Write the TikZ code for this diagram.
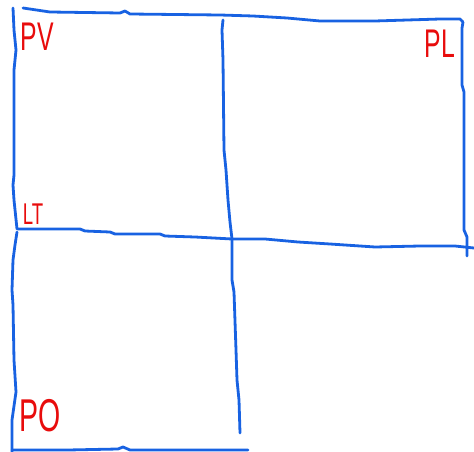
\documentclass[tikz,border=0pt]{standalone}
\usepackage{fontspec}
\setmainfont{Liberation Sans}
\usepackage{graphicx}
\usepackage{xcolor}
\usepackage{tikz}
\usetikzlibrary{positioning}
\definecolor{pblue}{RGB}{24,98,226}
\definecolor{pred}{RGB}{232,12,12}
\newcommand{\handtag}[1]{\scalebox{0.62}[1]{#1}}

\begin{document}
\begin{tikzpicture}[
    x=1pt, y=-1pt,
    pen/.style={draw=pblue, line width=2.8pt, line cap=round, line join=round},
    tag/.style={text=pred, inner sep=0pt, font=\fontsize{#1}{#1}\selectfont},
]
\useasboundingbox (0,0) rectangle (474,452);

% ---------- outer frame of the upper row ----------
\draw[pen] (23,8) -- (50,12) -- (120,13) -- (125,11) -- (130,14) -- (220,15)
  -- (253,16) -- (287,18) -- (320,21) -- (375,21) -- (440,19) -- (460,19) -- (463,22);
\draw[pen] (463,22) -- (462,28) -- (462,85) -- (464,92) -- (464,120)
  -- (464,230) -- (467,237) -- (467,256);
\draw[pen] (13,8) -- (14,30) -- (16,50) -- (14,70) -- (14,175) -- (13,185)
  -- (14,200) -- (17,229);

% ---------- middle cross ----------
\coordinate (mid) at (232,239);
\draw[pen] (18,229) -- (80,229) -- (85,231) -- (110,232) -- (115,234) -- (160,234)
  -- (165,236) -- (195,237) -- (mid) -- (265,239) -- (298,242) -- (330,244)
  -- (375,247) -- (420,246) -- (455,246) -- (474,248);
\draw[pen] (223,20) -- (222,30) -- (223,60) -- (224,150) -- (226,170)
  -- (228,200) -- (230,222) -- (mid);
\draw[pen] (mid) -- (232,280) -- (234,292) -- (236,350) -- (237,380)
  -- (239,400) -- (240,433);

% ---------- lower left square ----------
\draw[pen] (17,232) -- (15,245) -- (13,260) -- (12,290) -- (13,305) -- (14,360)
  -- (16,392) -- (12,420) -- (12,452);
\draw[pen] (12,450) -- (68,450) -- (118,449) -- (123,447) -- (130,450) -- (248,450);

% ---------- labels ----------
\node[tag=40] (pv) at (37,37)  {\handtag{PV}};
\node[tag=40] (pl) at (440,44) {\handtag{PL}};
\node[tag=30] (lt) at (33,214) {\handtag{LT}};
\node[tag=46] (po) at (40,416) {\handtag{PO}};

\end{tikzpicture}
\end{document}
